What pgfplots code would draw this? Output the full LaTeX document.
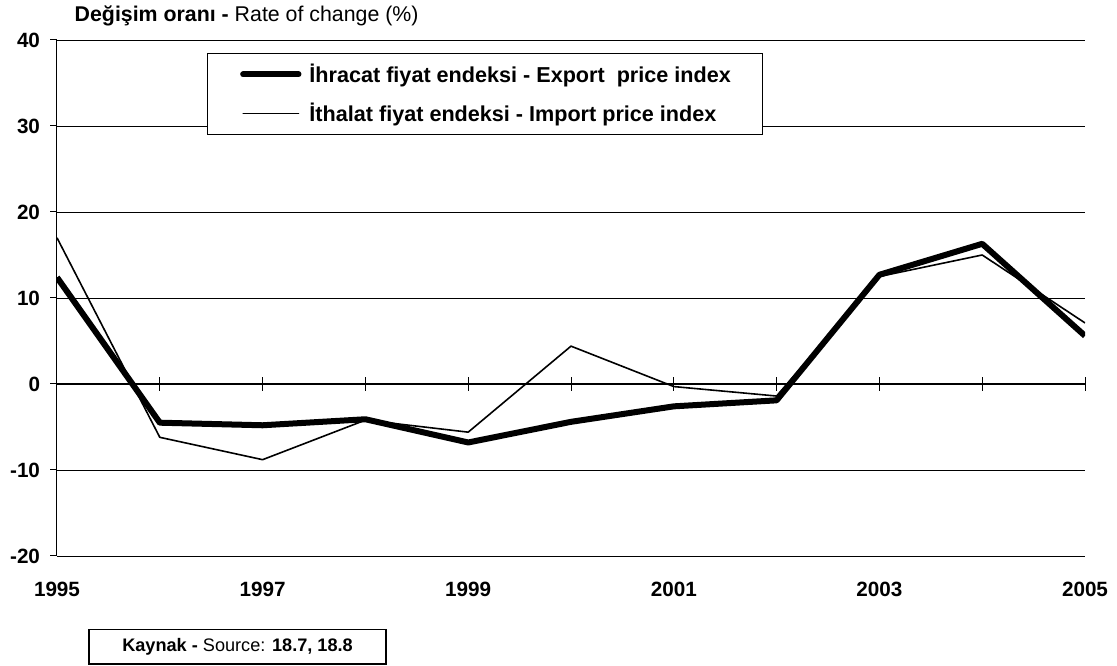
\documentclass[border=0pt]{standalone}
\usepackage{fontspec}
\setmainfont{Liberation Sans}
\usepackage{pgfplots}
\pgfplotsset{compat=1.18}
\begin{document}
\begin{tikzpicture}
\useasboundingbox (-42.75pt,-82.5pt) rectangle (795pt,417pt);
\begin{axis}[
 at={(0,0)}, anchor=south west,
 scale only axis, width=771pt, height=387pt,
 xmin=1995, xmax=2005, ymin=-20, ymax=40,
 axis y line*=left, axis x line*=bottom,
 x axis line style={draw=none},
 y axis line style={line width=0.75pt,-},
 xtick={1995,1997,...,2005},
 xticklabels={1995,1997,1999,2001,2003,2005},
 ytick={-20,-10,...,40},
 yticklabels={-20,-10,0,10,20,30,40},
 ymajorgrids, major grid style={black, line width=0.6pt},
 ytick align=outside, major tick length=5.25pt,
 x tick style={draw=none},
 y tick style={black, line width=0.75pt},
 /pgf/number format/assume math mode=true,
 ticklabel style={font=\bfseries\fontsize{15.5}{17}\selectfont},
 xticklabel style={yshift=-16pt},
 yticklabel style={xshift=-4pt},
]
\end{axis}
\begin{axis}[
 at={(0,0)}, anchor=south west,
 scale only axis, width=771pt, height=387pt,
 xmin=1995, xmax=2005, ymin=-20, ymax=40,
 axis x line=middle, axis y line=none,
 x axis line style={line width=0.75pt,-},
 xtick={1995,1996,...,2005}, xticklabels={},
 ytick=\empty,
 xtick align=center, major tick length=10.5pt,
 x tick style={black, line width=0.75pt},
 legend style={at={(rel axis cs:0.1459,0.9748)}, anchor=north west,
   draw=black, line width=0.75pt,
   font=\bfseries\fontsize{16.2}{18}\selectfont,
   inner xsep=22pt, inner ysep=6pt, row sep=10pt,
   cells={anchor=west}},
 legend image code/.code={\path (0pt,0pt) (48pt,0pt);
   \draw[#1, line cap=round] (2.5pt,0pt) -- (44pt,0pt);},
 legend cell align=left,
]
\addplot[black, line width=4.5pt, line join=round] coordinates {
(1995,12.4) (1996,-4.5) (1997,-4.8) (1998,-4.1) (1999,-6.8) (2000,-4.4)
(2001,-2.6) (2002,-1.9) (2003,12.7) (2004,16.3) (2005,5.6)};
\addlegendentry{İhracat fiyat endeksi - Export\ \ price index}
\addplot[black, line width=1.2pt, line join=round] coordinates {
(1995,17.0) (1996,-6.2) (1997,-8.8) (1998,-4.2) (1999,-5.6) (2000,4.4)
(2001,-0.3) (2002,-1.4) (2003,12.5) (2004,15.0) (2005,7.1)};
\addlegendentry{İthalat fiyat endeksi - Import price index}
\end{axis}
\node[anchor=base west, font=\fontsize{16}{18}\selectfont] at (9.75pt,400.5pt) {\textbf{Değişim oranı -} Rate of change (\%)};
\node[draw, line width=1pt, minimum width=222.75pt, minimum height=26pt, font=\fontsize{13.6}{15}\selectfont] at (135.4pt,-68pt) {\textbf{Kaynak -} Source: \textbf{18.7, 18.8}};
\end{tikzpicture}
\end{document}
